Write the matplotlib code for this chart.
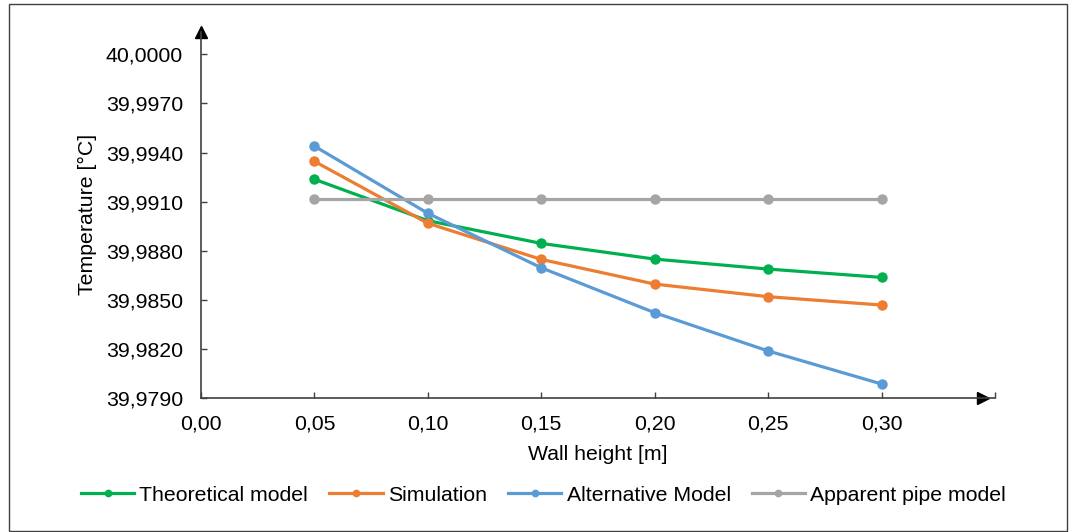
import matplotlib.pyplot as plt
from matplotlib.patches import Rectangle
from matplotlib.ticker import FuncFormatter

plt.rcParams['font.family'] = ['Liberation Sans', 'DejaVu Sans']

wall_height = [0.05, 0.10, 0.15, 0.20, 0.25, 0.30]
theoretical = [39.99236, 39.98983, 39.98844, 39.98748, 39.98687, 39.98636]
simulation = [39.99346, 39.98967, 39.98746, 39.98595, 39.98518, 39.98467]
alternative = [39.99439, 39.99028, 39.98695, 39.98420, 39.98186, 39.97984]
apparent = [39.99117, 39.99117, 39.99117, 39.99117, 39.99117, 39.99117]

series = [
    ("Theoretical model", theoretical, "#00B050"),
    ("Simulation", simulation, "#ED7D31"),
    ("Alternative Model", alternative, "#5B9BD5"),
    ("Apparent pipe model", apparent, "#A5A5A5"),
]

fs = 15.3

fig = plt.figure(figsize=(10.72, 5.32), dpi=100)
ax = fig.add_axes([0.1875, 0.2524, 0.7407, 0.6874])

for name, vals, col in series:
    ax.plot(wall_height, vals, color=col, lw=2.3, marker="o", ms=6.5, label=name)

ax.set_xlim(0, 0.35)
ax.set_ylim(39.979, 40.00137)
ax.set_xticks([0, 0.05, 0.10, 0.15, 0.20, 0.25, 0.30, 0.35])
ax.set_yticks([39.979 + 0.003 * i for i in range(8)])
ax.xaxis.set_major_formatter(FuncFormatter(
    lambda v, p: "" if v > 0.34 else f"{v:.2f}".replace(".", ",")))
ax.yaxis.set_major_formatter(FuncFormatter(lambda v, p: f"{v:.4f}".replace(".", ",")))
ax.tick_params(direction="in", length=4, width=1, labelsize=fs, colors="#404040",
               labelcolor="#000000")
ax.tick_params(axis="y", pad=13)
ax.tick_params(axis="x", pad=12)

for s in ["top", "right"]:
    ax.spines[s].set_visible(False)
for s in ["left", "bottom"]:
    ax.spines[s].set_color("#404040")
    ax.spines[s].set_linewidth(1.2)

# axis arrows
ax.plot(0, 1, marker="^", color="black", ms=9, transform=ax.transAxes, clip_on=False)
ax.plot(0.985, 0, marker=">", color="black", ms=9, transform=ax.transAxes, clip_on=False)

ax.set_xlabel("Wall height [m]", fontsize=fs, labelpad=8)
ax.set_ylabel("Temperature [°C]", fontsize=fs, labelpad=6)

fig.legend(loc="center", bbox_to_anchor=(0.507, 0.069), ncol=4, frameon=False,
           fontsize=fs, handlelength=2.5, handletextpad=0.25, columnspacing=1.0,
           markerscale=0.7)

fig.patches.append(Rectangle((9 / 1072, 1 / 532), 1058 / 1072, 527 / 532,
                             transform=fig.transFigure, fill=False,
                             edgecolor="#404040", lw=1))

fig.savefig("out.png", dpi=100)
